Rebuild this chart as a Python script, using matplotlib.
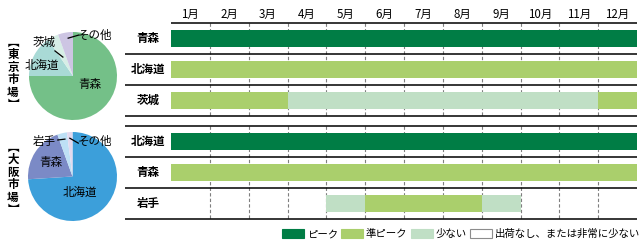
import matplotlib
matplotlib.use("Agg")
import matplotlib.pyplot as plt
from matplotlib.patches import Patch

plt.rcParams['font.family'] = ['Noto Sans CJK JP', 'DejaVu Sans']

MONTHS = ["1月", "2月", "3月", "4月", "5月", "6月", "7月", "8月", "9月", "10月", "11月", "12月"]
LEVELS = ["ピーク", "準ピーク", "少ない", "出荷なし、または非常に少ない"]
LEVEL_COLORS = ["#007d45", "#aacf6c", "#c0dfc5", "white"]

# monthly level per origin: 0 peak, 1 semi-peak, 2 few, 3 none
TOKYO_ORIGINS = ["青森", "北海道", "茨城"]
TOKYO_LEVELS = [
    [0, 0, 0, 0, 0, 0, 0, 0, 0, 0, 0, 0],
    [1, 1, 1, 1, 1, 1, 1, 1, 1, 1, 1, 1],
    [1, 1, 1, 2, 2, 2, 2, 2, 2, 2, 2, 1],
]
OSAKA_ORIGINS = ["北海道", "青森", "岩手"]
OSAKA_LEVELS = [
    [0, 0, 0, 0, 0, 0, 0, 0, 0, 0, 0, 0],
    [1, 1, 1, 1, 1, 1, 1, 1, 1, 1, 1, 1],
    [3, 3, 3, 3, 2, 1, 1, 1, 2, 3, 3, 3],
]

# market shares (pie)
TOKYO_SHARE_LABELS = ["青森", "北海道", "茨城", "その他"]
TOKYO_SHARES = [75, 15.5, 4, 5.5]
TOKYO_PIE_COLORS = ["#74c088", "#a9dad6", "#d7eee6", "#cdc5e3"]
OSAKA_SHARE_LABELS = ["北海道", "青森", "岩手", "その他"]
OSAKA_SHARES = [74, 20.5, 3.5, 2]
OSAKA_PIE_COLORS = ["#3c9fda", "#7b8ac6", "#bde0f5", "#e3d9ee"]

W, H = 642, 250
LABEL_W = 46 / 38.8  # row-label column width in months


def runs(levels):
    out, start = [], 0
    for i in range(1, len(levels) + 1):
        if i == len(levels) or levels[i] != levels[start]:
            out.append((start, i - start, levels[start]))
            start = i
    return out


def gantt(rect, origins, levels, header):
    ax = fig.add_axes(rect)
    ax.set_xlim(-LABEL_W, 12); ax.set_ylim(3, 0)
    ax.axis("off")
    ax.vlines(range(1, 12), 0, 3, colors="#7f7f7f", linestyles=(0, (3, 2)), lw=0.8, zorder=1)
    for r, (name, lv) in enumerate(zip(origins, levels)):
        for start, n, level in runs(lv):
            if level == 3:
                continue
            ax.barh(r + 0.5, n, left=start, height=0.54, color=LEVEL_COLORS[level], lw=0, zorder=2)
        ax.text(-LABEL_W / 2, r + 0.5, name, ha="center", va="center", fontsize=8.3, fontweight="bold")
    ax.hlines([1, 2, 3], -LABEL_W, 12, colors="black", lw=1.1, clip_on=False, zorder=3)
    if header:
        ax.hlines(0, 0, 12, colors="black", lw=1.1, clip_on=False, zorder=3)
        for m, lab in enumerate(MONTHS):
            ax.text(m + 0.5, -0.29, lab, ha="center", va="center", fontsize=8.3)
    else:
        ax.hlines(0, -LABEL_W, 12, colors="black", lw=1.1, clip_on=False, zorder=3)
    return ax


def pie(cx, cy, r, shares, colors):
    ax = fig.add_axes([(cx - r) / W, 1 - (cy + r) / H, 2 * r / W, 2 * r / H])
    ax.pie(shares, colors=colors, startangle=90, counterclock=False, radius=1,
           wedgeprops=dict(linewidth=0))
    ax.set_xlim(-1, 1); ax.set_ylim(-1, 1)
    return ax


fig = plt.figure(figsize=(W / 100, H / 100), dpi=100)

gantt([125 / W, 1 - 116 / H, 512 / W, 93 / H], TOKYO_ORIGINS, TOKYO_LEVELS, True)
gantt([125 / W, 1 - 219 / H, 512 / W, 93 / H], OSAKA_ORIGINS, OSAKA_LEVELS, False)

# Tokyo pie
ax = pie(73, 76, 44, TOKYO_SHARES, TOKYO_PIE_COLORS)
for lab, (x, y) in zip(TOKYO_SHARE_LABELS, [(0.39, -0.2), (-0.72, 0.25), (-0.65, 0.76), (0.49, 0.92)]):
    ax.text(x, y, lab, ha="center", va="center", fontsize=8.3)
ax.plot([-0.41, -0.23], [0.57, 0.43], color="black", lw=0.9, clip_on=False)
ax.plot([-0.11, 0.13], [0.86, 0.93], color="black", lw=0.9, clip_on=False)

# Osaka pie
ax = pie(72.5, 176.5, 44.5, OSAKA_SHARES, OSAKA_PIE_COLORS)
for lab, (x, y) in zip(OSAKA_SHARE_LABELS, [(0.17, -0.35), (-0.49, 0.31), (-0.64, 0.79), (0.5, 0.79)]):
    ax.text(x, y, lab, ha="center", va="center", fontsize=8.3)
ax.plot([-0.33, -0.17], [0.82, 0.84], color="black", lw=0.9, clip_on=False)
ax.plot([-0.06, 0.13], [0.86, 0.75], color="black", lw=0.9, clip_on=False)

# vertical market labels
fig.text(13 / W, 1 - 73.5 / H, "︻\n東\n京\n市\n場\n︼", ha="center", va="center",
         fontsize=8.3, fontweight="bold", linespacing=0.95)
fig.text(13 / W, 1 - 178.5 / H, "︻\n大\n阪\n市\n場\n︼", ha="center", va="center",
         fontsize=8.3, fontweight="bold", linespacing=0.95)

handles = [Patch(facecolor=c, edgecolor="#8c8c8c" if c == "white" else c, lw=0.8) for c in LEVEL_COLORS]
fig.legend(handles, LEVELS, ncol=4, loc="center right", bbox_to_anchor=(640 / W, 1 - 234 / H),
           frameon=False, fontsize=7.5, handlelength=2.1, handleheight=1.05,
           handletextpad=0.25, columnspacing=0.35, borderpad=0, borderaxespad=0)

fig.savefig("out.png", dpi=100)
